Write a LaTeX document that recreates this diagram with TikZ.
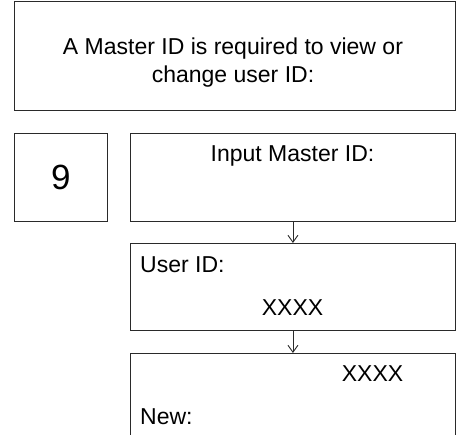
\documentclass[tikz,border=0pt]{standalone}
\usepackage{fontspec}
\setmainfont{Liberation Sans}
\usetikzlibrary{arrows.meta}
\definecolor{lnblack}{HTML}{2A2A2A}

\begin{document}
\begin{tikzpicture}[
  x=1pt, y=-1pt,
  >={Straight Barb[length=7pt, width=10pt]},
  panel/.style={draw=lnblack, line width=0.9pt, inner sep=0pt, anchor=north west},
  txt/.style={font=\fontsize{23}{27}\selectfont, inner sep=0pt},
]

% ══════════════════════════════════════════════════════
% Frame
% ══════════════════════════════════════════════════════
\clip (0,0) rectangle (456,435);

% ══════════════════════════════════════════════════════
% Message box
% ══════════════════════════════════════════════════════
\node[panel, minimum width=441pt, minimum height=108.5pt] (msgbox) at (14,1.5) {};
\node[txt, anchor=base] (msgtop) at (233,55) {A Master ID is required to view or};
\node[txt, anchor=base] (msgbot) at (233,83) {change user ID:};

% ══════════════════════════════════════════════════════
% Step number and input box
% ══════════════════════════════════════════════════════
\node[panel, minimum width=93pt, minimum height=88pt,
  font=\fontsize{35}{40}\selectfont] (stepnum) at (14,133) {9};

\node[panel, minimum width=325pt, minimum height=88pt] (inbox) at (130,133) {};
\node[txt, anchor=base] (intxt) at (292.5,162) {Input Master ID:};

% ══════════════════════════════════════════════════════
% User ID box
% ══════════════════════════════════════════════════════
\node[panel, minimum width=325pt, minimum height=87pt] (userbox) at (130,243) {};
\node[txt, anchor=base west] (usertxt) at (140,272.5) {User ID:};
\node[txt, anchor=base] (userval) at (292.5,315.5) {XXXX};

% ══════════════════════════════════════════════════════
% New ID box (runs off the bottom)
% ══════════════════════════════════════════════════════
\node[panel, minimum width=325pt, minimum height=100pt] (newbox) at (130,353) {};
\node[txt, anchor=base] (newval) at (372.5,381.5) {XXXX};
\node[txt, anchor=base west] (newtxt) at (140,424.5) {New:};

% ══════════════════════════════════════════════════════
% Connectors
% ══════════════════════════════════════════════════════
\draw[->, lnblack, line width=0.9pt] (inbox.south) -- (userbox.north);
\draw[->, lnblack, line width=0.9pt] (userbox.south) -- (newbox.north);

\end{tikzpicture}
\end{document}
